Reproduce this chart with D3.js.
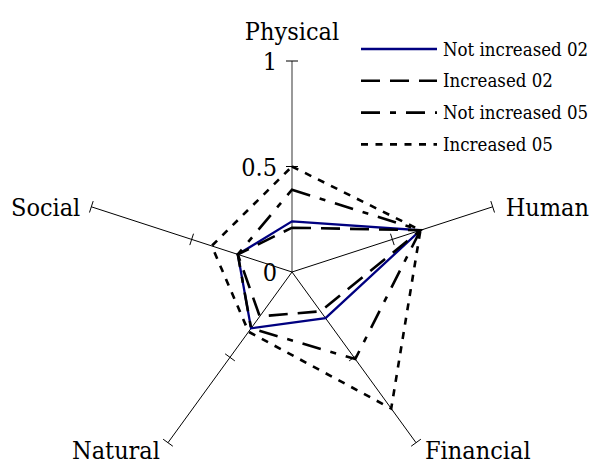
<!DOCTYPE html>
<html>
<head>
<meta charset="utf-8">
<script src="https://cdn.jsdelivr.net/npm/d3@7"></script>
<style>
  html, body { margin: 0; padding: 0; background: #fff; }
</style>
</head>
<body>
<svg class="chart-svg"></svg>
<script>
// axes, clockwise from the top
const axes = ["Physical", "Human", "Financial", "Natural", "Social"];
const ticks = [0, 0.5, 1];

const seriesNames = ["Not increased 02", "Increased 02", "Not increased 05", "Increased 05"];
const notIncreased02 = [0.24, 0.64, 0.27, 0.33, 0.27];
const increased02    = [0.21, 0.64, 0.23, 0.26, 0.27];
const notIncreased05 = [0.39, 0.64, 0.51, 0.33, 0.27];
const increased05    = [0.50, 0.64, 0.80, 0.35, 0.40];

const width = 590, height = 460;
const cx = 292, cy = 272;
const font = "DejaVu Serif Condensed";

const svg = d3.select(".chart-svg")
    .attr("width", width)
    .attr("height", height);

const r = d3.scaleLinear().domain([0, 1]).range([0, 211]);
const angle = d3.scaleLinear().domain([0, axes.length]).range([0, 2 * Math.PI]);

// angle runs clockwise from 12 o'clock
const px = (i, v) => cx + r(v) * Math.sin(angle(i));
const py = (i, v) => cy - r(v) * Math.cos(angle(i));

const styles = [
    { stroke: "#000080", width: 2.3, dash: null },
    { stroke: "#000", width: 2.6, dash: "19,10" },
    { stroke: "#000", width: 2.6, dash: "19,10,6,10" },
    { stroke: "#000", width: 2.6, dash: "7,7.5" }
];

const g = svg.append("g");

// spokes
g.selectAll("line.spoke")
    .data(axes)
    .join("line")
    .attr("class", "spoke")
    .attr("x1", cx).attr("y1", cy)
    .attr("x2", (d, i) => px(i, 1))
    .attr("y2", (d, i) => py(i, 1))
    .attr("stroke", (d, i) => i === 0 ? "#808080" : "#000")
    .attr("stroke-width", (d, i) => i === 0 ? 1.6 : 1);

// tick marks at 0.5 and 1
const tickData = [];
axes.forEach((a, i) => ticks.filter(t => t > 0).forEach(t => tickData.push({ i, t })));
g.selectAll("line.tick")
    .data(tickData)
    .join("line")
    .attr("class", "tick")
    .attr("x1", d => px(d.i, d.t) - 6 * Math.cos(angle(d.i)))
    .attr("y1", d => py(d.i, d.t) - 6 * Math.sin(angle(d.i)))
    .attr("x2", d => px(d.i, d.t) + 6 * Math.cos(angle(d.i)))
    .attr("y2", d => py(d.i, d.t) + 6 * Math.sin(angle(d.i)))
    .attr("stroke", "#000");

// value labels along Physical
g.selectAll("text.tlabel")
    .data(ticks)
    .join("text")
    .attr("class", "tlabel")
    .attr("x", cx - 15)
    .attr("y", d => cy - r(d))
    .attr("dy", "0.36em")
    .attr("text-anchor", "end")
    .attr("font-size", 25)
    .attr("font-family", font)
    .attr("font-stretch", "condensed")
    .text(d => d3.format("")(d));

// series
const radial = d3.lineRadial()
    .angle((d, i) => angle(i))
    .radius(d => r(d))
    .curve(d3.curveLinearClosed);

const series = [notIncreased02, increased02, notIncreased05, increased05];
g.selectAll("path.series")
    .data(series)
    .join("path")
    .attr("class", "series")
    .attr("transform", `translate(${cx},${cy})`)
    .attr("d", radial)
    .attr("fill", "none")
    .attr("stroke", (d, i) => styles[i].stroke)
    .attr("stroke-width", (d, i) => styles[i].width)
    .attr("stroke-dasharray", (d, i) => styles[i].dash);

// axis labels
const labelPos = [
    { dx: 0, dy: -21, anchor: "middle", base: 0 },
    { dx: 13, dy: 0, anchor: "start", base: 0.36 },
    { dx: 9, dy: 7, anchor: "start", base: 0.36 },
    { dx: -8, dy: 7, anchor: "end", base: 0.36 },
    { dx: -11, dy: 0, anchor: "end", base: 0.36 }
];
g.selectAll("text.axis")
    .data(axes)
    .join("text")
    .attr("class", "axis")
    .attr("x", (d, i) => px(i, 1) + labelPos[i].dx)
    .attr("y", (d, i) => py(i, 1) + labelPos[i].dy)
    .attr("dy", (d, i) => labelPos[i].base + "em")
    .attr("text-anchor", (d, i) => labelPos[i].anchor)
    .attr("font-size", 25)
    .attr("font-family", font)
    .attr("font-stretch", "condensed")
    .text(d => d);

// legend
const legend = svg.append("g")
    .selectAll("g")
    .data(seriesNames)
    .join("g")
    .attr("transform", (d, i) => `translate(361,${49 + i * 31.8})`);

legend.append("line")
    .attr("x1", 0).attr("x2", 76)
    .attr("stroke", (d, i) => styles[i].stroke)
    .attr("stroke-width", (d, i) => styles[i].width)
    .attr("stroke-dasharray", (d, i) => styles[i].dash);

legend.append("text")
    .attr("x", 82)
    .attr("dy", "0.36em")
    .attr("font-size", 18.5)
    .attr("font-family", font)
    .attr("font-stretch", "condensed")
    .text(d => d);
</script>
</body>
</html>
